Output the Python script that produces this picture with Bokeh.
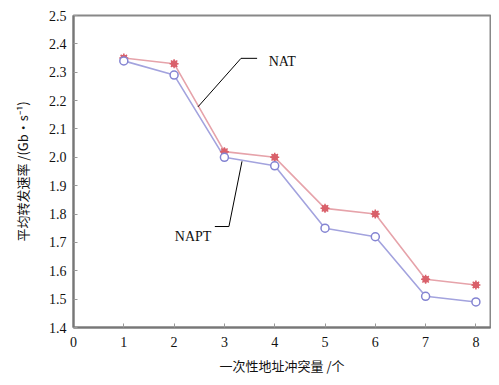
from bokeh.plotting import figure
from bokeh.models import Range1d, FixedTicker, Label, NumeralTickFormatter
from bokeh.embed import file_html
from bokeh.resources import INLINE

conflicts = [1, 2, 3, 4, 5, 6, 7, 8]
nat = [2.35, 2.33, 2.02, 2.00, 1.82, 1.80, 1.57, 1.55]
napt = [2.34, 2.29, 2.00, 1.97, 1.75, 1.72, 1.51, 1.49]
x_ticks = [0, 1, 2, 3, 4, 5, 6, 7, 8]
y_ticks = [1.4, 1.5, 1.6, 1.7, 1.8, 1.9, 2.0, 2.1, 2.2, 2.3, 2.4, 2.5]

# annotation leader lines (data coords)
nat_leader_x = [2.475, 3.33, 3.65]
nat_leader_y = [2.178, 2.349, 2.349]
napt_leader_x = [3.35, 3.09, 2.81]
napt_leader_y = [1.986, 1.756, 1.756]

p = figure(width=491, height=377, output_backend="svg", toolbar_location=None,
           x_range=Range1d(0, 8.29), y_range=Range1d(1.4, 2.5),
           min_border_left=73, min_border_right=1, min_border_top=15, min_border_bottom=41)

p.background_fill_color = "white"
p.border_fill_color = "white"
p.outline_line_color = "#888888"
p.outline_line_width = 2
p.grid.visible = False

serif = "Liberation Serif"
for ax in (p.xaxis[0], p.yaxis[0]):
    ax.axis_line_color = "#777777"
    ax.axis_line_width = 2
    ax.major_tick_in = 4
    ax.major_tick_out = 0
    ax.major_tick_line_color = "#999999"
    ax.minor_tick_line_color = None
    ax.major_label_text_font = serif
    ax.major_label_text_font_size = "14px"
    ax.major_label_text_color = "#111111"
    ax.axis_label_text_font = "Noto Sans CJK SC"
    ax.axis_label_text_font_style = "normal"
    ax.axis_label_text_font_size = "13px"
    ax.axis_label_text_color = "#111111"

p.xaxis.ticker = FixedTicker(ticks=x_ticks)
p.yaxis.ticker = FixedTicker(ticks=y_ticks)
p.yaxis.formatter = NumeralTickFormatter(format="0.0")
p.xaxis.major_label_standoff = 9
p.yaxis.major_label_standoff = 7
p.xaxis.axis_label = "一次性地址冲突量 /个"
p.yaxis.axis_label = "平均转发速率 /(Gb·s⁻¹)"
p.xaxis.axis_label_standoff = 6
p.yaxis.axis_label_standoff = 14

red_line = "#e6a3aa"
red_mark = "#d9606a"
blue_line = "#a3a3de"
blue_mark = "#8484d2"

p.line(conflicts, nat, line_color=red_line, line_width=1.6)
p.line(conflicts, napt, line_color=blue_line, line_width=1.6)
p.scatter(conflicts, nat, marker="circle", size=6, fill_color=red_mark, line_color=red_mark, fill_alpha=0.8)
p.scatter(conflicts, nat, marker="asterisk", size=9, line_color=red_mark, line_width=1.5)
p.scatter(conflicts, napt, marker="circle", size=8, fill_color="white", line_color=blue_mark, line_width=1.5)

p.line(nat_leader_x, nat_leader_y, line_color="black", line_width=1)
p.line(napt_leader_x, napt_leader_y, line_color="black", line_width=1)

p.add_layout(Label(x=3.88, y=2.339, text="NAT", text_font=serif, text_font_size="14px",
                   text_baseline="middle", text_align="left", text_color="#111111"))
p.add_layout(Label(x=2.74, y=1.722, text="NAPT", text_font=serif, text_font_size="14px",
                   text_baseline="middle", text_align="right", text_color="#111111"))

open("out.html", "w").write(file_html(p, INLINE))
